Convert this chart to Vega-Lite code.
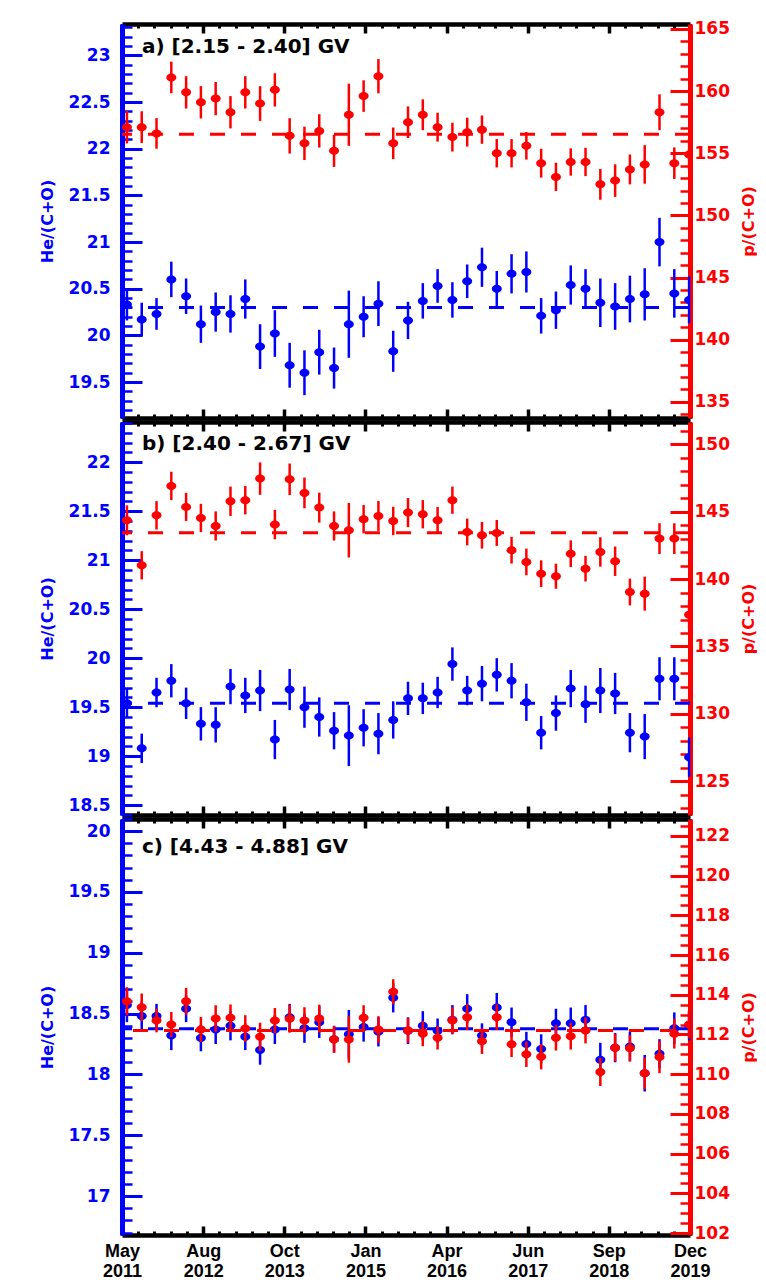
{
  "$schema": "https://vega.github.io/schema/vega-lite/v6.json",
  "background": "white",
  "padding": {"left": 39, "top": 19, "right": 0, "bottom": 2},
  "spacing": 0,
  "config": {
    "view": {"stroke": null},
    "axis": {"grid": false, "labelFont": "DejaVu Sans", "labelFontWeight": "bold", "titleFont": "DejaVu Sans", "titleFontWeight": "bold", "labelOverlap": false, "labelFlush": false}
  },
  "datasets": {
    "means": [
      {"panel": "a", "label": "a) [2.15 - 2.40] GV", "he_mean": 20.30, "p_mean": 156.52},
      {"panel": "b", "label": "b) [2.40 - 2.67] GV", "he_mean": 19.54, "p_mean": 143.44},
      {"panel": "c", "label": "c) [4.43 - 4.88] GV", "he_mean": 18.375, "p_mean": 112.2}
    ],
    "pa": [
      {"date": "2011-06-12", "he": 20.33, "he_err": 0.17, "p": 157.1, "p_err": 1.31},
      {"date": "2011-09-01", "he": 20.17, "he_err": 0.18, "p": 157.1, "p_err": 1.28},
      {"date": "2011-11-21", "he": 20.23, "he_err": 0.17, "p": 156.6, "p_err": 1.23},
      {"date": "2012-02-10", "he": 20.60, "he_err": 0.19, "p": 161.1, "p_err": 1.27},
      {"date": "2012-05-01", "he": 20.42, "he_err": 0.19, "p": 159.9, "p_err": 1.30},
      {"date": "2012-07-21", "he": 20.12, "he_err": 0.20, "p": 159.1, "p_err": 1.30},
      {"date": "2012-10-10", "he": 20.25, "he_err": 0.21, "p": 159.4, "p_err": 1.34},
      {"date": "2012-12-30", "he": 20.23, "he_err": 0.20, "p": 158.3, "p_err": 1.30},
      {"date": "2013-03-21", "he": 20.39, "he_err": 0.21, "p": 159.9, "p_err": 1.30},
      {"date": "2013-06-10", "he": 19.88, "he_err": 0.24, "p": 159.0, "p_err": 1.40},
      {"date": "2013-08-30", "he": 20.02, "he_err": 0.25, "p": 160.1, "p_err": 1.34},
      {"date": "2013-11-19", "he": 19.68, "he_err": 0.24, "p": 156.4, "p_err": 1.42},
      {"date": "2014-02-08", "he": 19.60, "he_err": 0.24, "p": 155.8, "p_err": 1.34},
      {"date": "2014-04-30", "he": 19.82, "he_err": 0.24, "p": 156.8, "p_err": 1.34},
      {"date": "2014-07-20", "he": 19.65, "he_err": 0.22, "p": 155.2, "p_err": 1.30},
      {"date": "2014-10-09", "he": 20.12, "he_err": 0.36, "p": 158.1, "p_err": 2.50},
      {"date": "2014-12-29", "he": 20.20, "he_err": 0.22, "p": 159.6, "p_err": 1.27},
      {"date": "2015-03-20", "he": 20.34, "he_err": 0.24, "p": 161.2, "p_err": 1.38},
      {"date": "2015-06-09", "he": 19.83, "he_err": 0.22, "p": 155.8, "p_err": 1.27},
      {"date": "2015-08-29", "he": 20.16, "he_err": 0.20, "p": 157.5, "p_err": 1.27},
      {"date": "2015-11-18", "he": 20.37, "he_err": 0.19, "p": 158.1, "p_err": 1.24},
      {"date": "2016-02-07", "he": 20.53, "he_err": 0.18, "p": 157.1, "p_err": 1.16},
      {"date": "2016-04-28", "he": 20.38, "he_err": 0.19, "p": 156.3, "p_err": 1.16},
      {"date": "2016-07-18", "he": 20.58, "he_err": 0.18, "p": 156.7, "p_err": 1.16},
      {"date": "2016-10-07", "he": 20.73, "he_err": 0.21, "p": 156.9, "p_err": 1.14},
      {"date": "2016-12-27", "he": 20.50, "he_err": 0.19, "p": 155.0, "p_err": 1.14},
      {"date": "2017-03-18", "he": 20.66, "he_err": 0.21, "p": 155.0, "p_err": 1.14},
      {"date": "2017-06-07", "he": 20.68, "he_err": 0.22, "p": 155.6, "p_err": 1.11},
      {"date": "2017-08-27", "he": 20.21, "he_err": 0.19, "p": 154.2, "p_err": 1.16},
      {"date": "2017-11-16", "he": 20.27, "he_err": 0.20, "p": 153.1, "p_err": 1.14},
      {"date": "2018-02-05", "he": 20.54, "he_err": 0.21, "p": 154.3, "p_err": 1.10},
      {"date": "2018-04-27", "he": 20.50, "he_err": 0.21, "p": 154.3, "p_err": 1.14},
      {"date": "2018-07-17", "he": 20.35, "he_err": 0.26, "p": 152.5, "p_err": 1.24},
      {"date": "2018-10-06", "he": 20.31, "he_err": 0.25, "p": 152.8, "p_err": 1.31},
      {"date": "2018-12-26", "he": 20.39, "he_err": 0.25, "p": 153.7, "p_err": 1.20},
      {"date": "2019-03-17", "he": 20.44, "he_err": 0.28, "p": 154.1, "p_err": 1.55},
      {"date": "2019-06-06", "he": 21.00, "he_err": 0.26, "p": 158.3, "p_err": 1.44},
      {"date": "2019-08-26", "he": 20.45, "he_err": 0.26, "p": 154.2, "p_err": 1.27},
      {"date": "2019-11-15", "he": 20.38, "he_err": 0.25, "p": 154.9, "p_err": 1.30}
    ],
    "pb": [
      {"date": "2011-06-12", "he": 19.54, "he_err": 0.15, "p": 144.36, "p_err": 1.11},
      {"date": "2011-09-01", "he": 19.08, "he_err": 0.15, "p": 141.02, "p_err": 1.05},
      {"date": "2011-11-21", "he": 19.65, "he_err": 0.15, "p": 144.73, "p_err": 1.05},
      {"date": "2012-02-10", "he": 19.77, "he_err": 0.17, "p": 146.91, "p_err": 1.05},
      {"date": "2012-05-01", "he": 19.54, "he_err": 0.16, "p": 145.35, "p_err": 1.04},
      {"date": "2012-07-21", "he": 19.33, "he_err": 0.17, "p": 144.53, "p_err": 1.05},
      {"date": "2012-10-10", "he": 19.32, "he_err": 0.18, "p": 143.94, "p_err": 1.08},
      {"date": "2012-12-30", "he": 19.71, "he_err": 0.18, "p": 145.77, "p_err": 1.09},
      {"date": "2013-03-21", "he": 19.62, "he_err": 0.18, "p": 145.85, "p_err": 1.05},
      {"date": "2013-06-10", "he": 19.67, "he_err": 0.21, "p": 147.45, "p_err": 1.20},
      {"date": "2013-08-30", "he": 19.17, "he_err": 0.20, "p": 144.04, "p_err": 1.09},
      {"date": "2013-11-19", "he": 19.68, "he_err": 0.21, "p": 147.40, "p_err": 1.17},
      {"date": "2014-02-08", "he": 19.50, "he_err": 0.21, "p": 146.39, "p_err": 1.14},
      {"date": "2014-04-30", "he": 19.40, "he_err": 0.20, "p": 145.30, "p_err": 1.11},
      {"date": "2014-07-20", "he": 19.26, "he_err": 0.19, "p": 143.94, "p_err": 1.08},
      {"date": "2014-10-09", "he": 19.21, "he_err": 0.31, "p": 143.62, "p_err": 2.02},
      {"date": "2014-12-29", "he": 19.29, "he_err": 0.19, "p": 144.44, "p_err": 1.05},
      {"date": "2015-03-20", "he": 19.23, "he_err": 0.21, "p": 144.68, "p_err": 1.11},
      {"date": "2015-06-09", "he": 19.37, "he_err": 0.19, "p": 144.31, "p_err": 1.05},
      {"date": "2015-08-29", "he": 19.59, "he_err": 0.17, "p": 144.93, "p_err": 1.08},
      {"date": "2015-11-18", "he": 19.59, "he_err": 0.16, "p": 144.81, "p_err": 1.05},
      {"date": "2016-02-07", "he": 19.65, "he_err": 0.16, "p": 144.36, "p_err": 0.99},
      {"date": "2016-04-28", "he": 19.94, "he_err": 0.17, "p": 145.85, "p_err": 1.01},
      {"date": "2016-07-18", "he": 19.67, "he_err": 0.15, "p": 143.49, "p_err": 0.99},
      {"date": "2016-10-07", "he": 19.74, "he_err": 0.18, "p": 143.25, "p_err": 0.99},
      {"date": "2016-12-27", "he": 19.83, "he_err": 0.17, "p": 143.42, "p_err": 0.96},
      {"date": "2017-03-18", "he": 19.77, "he_err": 0.18, "p": 142.14, "p_err": 0.99},
      {"date": "2017-06-07", "he": 19.55, "he_err": 0.19, "p": 141.27, "p_err": 0.99},
      {"date": "2017-08-27", "he": 19.24, "he_err": 0.17, "p": 140.40, "p_err": 0.99},
      {"date": "2017-11-16", "he": 19.44, "he_err": 0.18, "p": 140.21, "p_err": 0.93},
      {"date": "2018-02-05", "he": 19.69, "he_err": 0.19, "p": 141.88, "p_err": 0.99},
      {"date": "2018-04-27", "he": 19.53, "he_err": 0.19, "p": 140.77, "p_err": 0.95},
      {"date": "2018-07-17", "he": 19.67, "he_err": 0.23, "p": 142.01, "p_err": 1.09},
      {"date": "2018-10-06", "he": 19.64, "he_err": 0.21, "p": 141.32, "p_err": 1.09},
      {"date": "2018-12-26", "he": 19.24, "he_err": 0.20, "p": 139.04, "p_err": 0.99},
      {"date": "2019-03-17", "he": 19.20, "he_err": 0.23, "p": 138.92, "p_err": 1.26},
      {"date": "2019-06-06", "he": 19.79, "he_err": 0.22, "p": 143.00, "p_err": 1.14},
      {"date": "2019-08-26", "he": 19.79, "he_err": 0.22, "p": 143.00, "p_err": 1.14},
      {"date": "2019-11-15", "he": 18.99, "he_err": 0.20, "p": 137.36, "p_err": 1.10}
    ],
    "pc": [
      {"date": "2011-06-12", "he": 18.57, "he_err": 0.14, "p": 113.67, "p_err": 0.71},
      {"date": "2011-09-01", "he": 18.48, "he_err": 0.12, "p": 113.37, "p_err": 0.69},
      {"date": "2011-11-21", "he": 18.48, "he_err": 0.10, "p": 112.70, "p_err": 0.59},
      {"date": "2012-02-10", "he": 18.32, "he_err": 0.12, "p": 112.50, "p_err": 0.63},
      {"date": "2012-05-01", "he": 18.54, "he_err": 0.11, "p": 113.67, "p_err": 0.67},
      {"date": "2012-07-21", "he": 18.30, "he_err": 0.11, "p": 112.25, "p_err": 0.63},
      {"date": "2012-10-10", "he": 18.37, "he_err": 0.12, "p": 112.80, "p_err": 0.67},
      {"date": "2012-12-30", "he": 18.40, "he_err": 0.12, "p": 112.84, "p_err": 0.67},
      {"date": "2013-03-21", "he": 18.31, "he_err": 0.11, "p": 112.30, "p_err": 0.67},
      {"date": "2013-06-10", "he": 18.20, "he_err": 0.12, "p": 111.88, "p_err": 0.71},
      {"date": "2013-08-30", "he": 18.37, "he_err": 0.12, "p": 112.70, "p_err": 0.63},
      {"date": "2013-11-19", "he": 18.47, "he_err": 0.11, "p": 112.79, "p_err": 0.70},
      {"date": "2014-02-08", "he": 18.38, "he_err": 0.12, "p": 112.70, "p_err": 0.67},
      {"date": "2014-04-30", "he": 18.43, "he_err": 0.13, "p": 112.80, "p_err": 0.70},
      {"date": "2014-07-20", "he": 18.29, "he_err": 0.11, "p": 111.75, "p_err": 0.67},
      {"date": "2014-10-09", "he": 18.33, "he_err": 0.20, "p": 111.75, "p_err": 1.17},
      {"date": "2014-12-29", "he": 18.39, "he_err": 0.12, "p": 112.84, "p_err": 0.63},
      {"date": "2015-03-20", "he": 18.35, "he_err": 0.12, "p": 112.25, "p_err": 0.67},
      {"date": "2015-06-09", "he": 18.63, "he_err": 0.12, "p": 114.15, "p_err": 0.63},
      {"date": "2015-08-29", "he": 18.36, "he_err": 0.11, "p": 112.20, "p_err": 0.63},
      {"date": "2015-11-18", "he": 18.40, "he_err": 0.12, "p": 112.04, "p_err": 0.63},
      {"date": "2016-02-07", "he": 18.36, "he_err": 0.10, "p": 111.83, "p_err": 0.59},
      {"date": "2016-04-28", "he": 18.45, "he_err": 0.12, "p": 112.70, "p_err": 0.67},
      {"date": "2016-07-18", "he": 18.54, "he_err": 0.12, "p": 112.87, "p_err": 0.65},
      {"date": "2016-10-07", "he": 18.32, "he_err": 0.10, "p": 111.66, "p_err": 0.64},
      {"date": "2016-12-27", "he": 18.55, "he_err": 0.12, "p": 112.87, "p_err": 0.65},
      {"date": "2017-03-18", "he": 18.43, "he_err": 0.12, "p": 111.50, "p_err": 0.64},
      {"date": "2017-06-07", "he": 18.25, "he_err": 0.10, "p": 111.00, "p_err": 0.64},
      {"date": "2017-08-27", "he": 18.21, "he_err": 0.12, "p": 110.88, "p_err": 0.64},
      {"date": "2017-11-16", "he": 18.42, "he_err": 0.12, "p": 111.83, "p_err": 0.64},
      {"date": "2018-02-05", "he": 18.42, "he_err": 0.13, "p": 111.91, "p_err": 0.67},
      {"date": "2018-04-27", "he": 18.45, "he_err": 0.12, "p": 112.20, "p_err": 0.65},
      {"date": "2018-07-17", "he": 18.12, "he_err": 0.14, "p": 110.11, "p_err": 0.71},
      {"date": "2018-10-06", "he": 18.22, "he_err": 0.12, "p": 111.33, "p_err": 0.69},
      {"date": "2018-12-26", "he": 18.23, "he_err": 0.12, "p": 111.30, "p_err": 0.67},
      {"date": "2019-03-17", "he": 18.01, "he_err": 0.15, "p": 110.04, "p_err": 0.80},
      {"date": "2019-06-06", "he": 18.17, "he_err": 0.12, "p": 110.86, "p_err": 0.81},
      {"date": "2019-08-26", "he": 18.38, "he_err": 0.13, "p": 112.04, "p_err": 0.75},
      {"date": "2019-11-15", "he": 18.40, "he_err": 0.12, "p": 112.50, "p_err": 0.70}
    ]
  },
  "vconcat": [
    {
      "width": 568, "height": 394,
      "data": {"name": "pa"},
      "layer": [
        {
          "layer": [
            {"data": {"name": "means"}, "transform": [{"filter": "datum.panel == 'a'"}],
             "mark": {"type": "rule", "color": "blue", "strokeWidth": 3, "strokeDash": [15, 16]},
             "encoding": {"y": {"field": "he_mean", "type": "quantitative", "scale": {"domain": [19.115, 23.337], "nice": false, "zero": false}, "axis": null}}},
            {"mark": {"type": "errorbar", "color": "blue", "thickness": 2.5},
             "encoding": {
               "x": {"field": "date", "type": "temporal", "scale": {"type": "utc", "domain": [1305504000000, 1574208000000], "nice": false},
                     "axis": {"orient": "bottom", "values": [1305504000000,1313181257143,1320858514286,1328535771429,1336213028571,1343890285714,1351567542857,1359244800000,1366922057143,1374599314286,1382276571429,1389953828571,1397631085714,1405308342857,1412985600000,1420662857143,1428340114286,1436017371429,1443694628571,1451371885714,1459049142857,1466726400000,1474403657143,1482080914286,1489758171429,1497435428571,1505112685714,1512789942857,1520467200000,1528144457143,1535821714286,1543498971429,1551176228571,1558853485714,1566530742857,1574208000000], "tickSize": -4, "tickWidth": 3, "tickColor": "black", "domain": false, "labels": false, "title": null}},
               "y": {"field": "he", "type": "quantitative", "scale": {"domain": [19.115, 23.337], "nice": false, "zero": false},
                     "axis": {"orient": "left", "tickCount": 42, "tickSize": -10, "tickWidth": 2.5, "tickColor": "blue", "domain": false, "labels": false, "title": null}},
               "yError": {"field": "he_err"}}},
            {"mark": {"type": "point", "filled": true, "color": "blue", "opacity": 1, "size": 100, "clip": true, "shape": "M -1 0 A 1 0.8 0 1 0 1 0 A 1 0.8 0 1 0 -1 0 Z"},
             "encoding": {
               "x": {"field": "date", "type": "temporal", "scale": {"type": "utc", "domain": [1305504000000, 1574208000000], "nice": false},
                     "axis": {"orient": "bottom", "values": [1305504000000, 1343890285714, 1382276571429, 1420662857143, 1459049142857, 1497435428571, 1535821714286, 1574208000000], "tickSize": -9, "tickWidth": 3.5, "tickColor": "black", "domainColor": "black", "domainWidth": 4.5, "labels": false, "title": null}},
               "y": {"field": "he", "type": "quantitative", "scale": {"domain": [19.115, 23.337], "nice": false, "zero": false},
                     "axis": {"orient": "left", "values": [19.5, 20, 20.5, 21, 21.5, 22, 22.5, 23], "format": "~g", "tickSize": -20, "tickWidth": 3, "tickColor": "blue", "domainColor": "blue", "domainWidth": 5, "labelColor": "blue", "labelFontSize": 17, "labelPadding": 32, "title": "He/(C+O)", "titleColor": "blue", "titleFontSize": 16, "titlePadding": 13}}}},
            {"data": {"name": "means"}, "transform": [{"filter": "datum.panel == 'a'"}],
             "mark": {"type": "text", "align": "left", "baseline": "alphabetic", "font": "DejaVu Sans", "fontSize": 20, "fontWeight": "bold", "color": "black"},
             "encoding": {
               "x": {"datum": {"year": 2011, "month": 9, "date": 2, "utc": true}, "type": "temporal", "scale": {"type": "utc", "domain": [1305504000000, 1574208000000], "nice": false}, "axis": null},
               "y": {"datum": 23.027, "type": "quantitative", "scale": {"domain": [19.115, 23.337], "nice": false, "zero": false}, "axis": null},
               "text": {"field": "label"}}}
          ],
          "resolve": {"axis": {"x": "independent", "y": "independent"}}
        },
        {
          "layer": [
            {"data": {"name": "means"}, "transform": [{"filter": "datum.panel == 'a'"}],
             "mark": {"type": "rule", "color": "red", "strokeWidth": 3, "strokeDash": [15, 16]},
             "encoding": {"y": {"field": "p_mean", "type": "quantitative", "scale": {"domain": [133.7, 165.4], "nice": false, "zero": false}, "axis": null}}},
            {"mark": {"type": "errorbar", "color": "red", "thickness": 2.5},
             "encoding": {
               "x": {"field": "date", "type": "temporal", "scale": {"type": "utc", "domain": [1305504000000, 1574208000000], "nice": false},
                     "axis": {"orient": "top", "values": [1305504000000,1313181257143,1320858514286,1328535771429,1336213028571,1343890285714,1351567542857,1359244800000,1366922057143,1374599314286,1382276571429,1389953828571,1397631085714,1405308342857,1412985600000,1420662857143,1428340114286,1436017371429,1443694628571,1451371885714,1459049142857,1466726400000,1474403657143,1482080914286,1489758171429,1497435428571,1505112685714,1512789942857,1520467200000,1528144457143,1535821714286,1543498971429,1551176228571,1558853485714,1566530742857,1574208000000], "tickSize": -4, "tickWidth": 3, "tickColor": "black", "domain": false, "labels": false, "title": null}},
               "y": {"field": "p", "type": "quantitative", "scale": {"domain": [133.7, 165.4], "nice": false, "zero": false},
                     "axis": {"orient": "right", "tickCount": 32, "tickSize": -10, "tickWidth": 2.5, "tickColor": "red", "domain": false, "labels": false, "title": null}},
               "yError": {"field": "p_err"}}},
            {"mark": {"type": "point", "filled": true, "color": "red", "opacity": 1, "size": 100, "clip": true, "shape": "M -1 0 A 1 0.8 0 1 0 1 0 A 1 0.8 0 1 0 -1 0 Z"},
             "encoding": {
               "x": {"field": "date", "type": "temporal", "scale": {"type": "utc", "domain": [1305504000000, 1574208000000], "nice": false},
                     "axis": {"orient": "top", "values": [1305504000000, 1343890285714, 1382276571429, 1420662857143, 1459049142857, 1497435428571, 1535821714286, 1574208000000], "tickSize": -9, "tickWidth": 3.5, "tickColor": "black", "domainColor": "black", "domainWidth": 4.5, "labels": false, "title": null}},
               "y": {"field": "p", "type": "quantitative", "scale": {"domain": [133.7, 165.4], "nice": false, "zero": false},
                     "axis": {"orient": "right", "values": [135, 140, 145, 150, 155, 160, 165], "format": "~g", "tickSize": -20, "tickWidth": 3, "tickColor": "red", "domainColor": "red", "domainWidth": 5, "labelColor": "red", "labelFontSize": 17, "labelPadding": 24, "title": "p/(C+O)", "titleColor": "red", "titleFontSize": 16, "titleAngle": 270, "titleBaseline": "top", "titleAlign": "center", "titlePadding": 11}}}}
          ],
          "resolve": {"axis": {"x": "independent", "y": "independent"}}
        }
      ],
      "resolve": {"scale": {"y": "independent"}, "axis": {"x": "independent", "y": "independent"}}
    },
    {
      "width": 568, "height": 393,
      "data": {"name": "pb"},
      "layer": [
        {
          "layer": [
            {"data": {"name": "means"}, "transform": [{"filter": "datum.panel == 'b'"}],
             "mark": {"type": "rule", "color": "blue", "strokeWidth": 3, "strokeDash": [15, 16]},
             "encoding": {"y": {"field": "he_mean", "type": "quantitative", "scale": {"domain": [18.40, 22.41], "nice": false, "zero": false}, "axis": null}}},
            {"mark": {"type": "errorbar", "color": "blue", "thickness": 2.5},
             "encoding": {
               "x": {"field": "date", "type": "temporal", "scale": {"type": "utc", "domain": [1305504000000, 1574208000000], "nice": false},
                     "axis": {"orient": "bottom", "values": [1305504000000,1313181257143,1320858514286,1328535771429,1336213028571,1343890285714,1351567542857,1359244800000,1366922057143,1374599314286,1382276571429,1389953828571,1397631085714,1405308342857,1412985600000,1420662857143,1428340114286,1436017371429,1443694628571,1451371885714,1459049142857,1466726400000,1474403657143,1482080914286,1489758171429,1497435428571,1505112685714,1512789942857,1520467200000,1528144457143,1535821714286,1543498971429,1551176228571,1558853485714,1566530742857,1574208000000], "tickSize": -4, "tickWidth": 3, "tickColor": "black", "domain": false, "labels": false, "title": null}},
               "y": {"field": "he", "type": "quantitative", "scale": {"domain": [18.40, 22.41], "nice": false, "zero": false},
                     "axis": {"orient": "left", "tickCount": 40, "tickSize": -10, "tickWidth": 2.5, "tickColor": "blue", "domain": false, "labels": false, "title": null}},
               "yError": {"field": "he_err"}}},
            {"mark": {"type": "point", "filled": true, "color": "blue", "opacity": 1, "size": 100, "clip": true, "shape": "M -1 0 A 1 0.8 0 1 0 1 0 A 1 0.8 0 1 0 -1 0 Z"},
             "encoding": {
               "x": {"field": "date", "type": "temporal", "scale": {"type": "utc", "domain": [1305504000000, 1574208000000], "nice": false},
                     "axis": {"orient": "bottom", "values": [1305504000000, 1343890285714, 1382276571429, 1420662857143, 1459049142857, 1497435428571, 1535821714286, 1574208000000], "tickSize": -9, "tickWidth": 3.5, "tickColor": "black", "domainColor": "black", "domainWidth": 4.5, "labels": false, "title": null}},
               "y": {"field": "he", "type": "quantitative", "scale": {"domain": [18.40, 22.41], "nice": false, "zero": false},
                     "axis": {"orient": "left", "values": [18.5, 19, 19.5, 20, 20.5, 21, 21.5, 22], "format": "~g", "tickSize": -20, "tickWidth": 3, "tickColor": "blue", "domainColor": "blue", "domainWidth": 5, "labelColor": "blue", "labelFontSize": 17, "labelPadding": 32, "title": "He/(C+O)", "titleColor": "blue", "titleFontSize": 16, "titlePadding": 13}}}},
            {"data": {"name": "means"}, "transform": [{"filter": "datum.panel == 'b'"}],
             "mark": {"type": "text", "align": "left", "baseline": "alphabetic", "font": "DejaVu Sans", "fontSize": 20, "fontWeight": "bold", "color": "black"},
             "encoding": {
               "x": {"datum": {"year": 2011, "month": 9, "date": 2, "utc": true}, "type": "temporal", "scale": {"type": "utc", "domain": [1305504000000, 1574208000000], "nice": false}, "axis": null},
               "y": {"datum": 22.125, "type": "quantitative", "scale": {"domain": [18.40, 22.41], "nice": false, "zero": false}, "axis": null},
               "text": {"field": "label"}}}
          ],
          "resolve": {"axis": {"x": "independent", "y": "independent"}}
        },
        {
          "layer": [
            {"data": {"name": "means"}, "transform": [{"filter": "datum.panel == 'b'"}],
             "mark": {"type": "rule", "color": "red", "strokeWidth": 3, "strokeDash": [15, 16]},
             "encoding": {"y": {"field": "p_mean", "type": "quantitative", "scale": {"domain": [122.5, 151.65], "nice": false, "zero": false}, "axis": null}}},
            {"mark": {"type": "errorbar", "color": "red", "thickness": 2.5},
             "encoding": {
               "x": {"field": "date", "type": "temporal", "scale": {"type": "utc", "domain": [1305504000000, 1574208000000], "nice": false},
                     "axis": {"orient": "top", "values": [1305504000000,1313181257143,1320858514286,1328535771429,1336213028571,1343890285714,1351567542857,1359244800000,1366922057143,1374599314286,1382276571429,1389953828571,1397631085714,1405308342857,1412985600000,1420662857143,1428340114286,1436017371429,1443694628571,1451371885714,1459049142857,1466726400000,1474403657143,1482080914286,1489758171429,1497435428571,1505112685714,1512789942857,1520467200000,1528144457143,1535821714286,1543498971429,1551176228571,1558853485714,1566530742857,1574208000000], "tickSize": -4, "tickWidth": 3, "tickColor": "black", "domain": false, "labels": false, "title": null}},
               "y": {"field": "p", "type": "quantitative", "scale": {"domain": [122.5, 151.65], "nice": false, "zero": false},
                     "axis": {"orient": "right", "tickCount": 29, "tickSize": -10, "tickWidth": 2.5, "tickColor": "red", "domain": false, "labels": false, "title": null}},
               "yError": {"field": "p_err"}}},
            {"mark": {"type": "point", "filled": true, "color": "red", "opacity": 1, "size": 100, "clip": true, "shape": "M -1 0 A 1 0.8 0 1 0 1 0 A 1 0.8 0 1 0 -1 0 Z"},
             "encoding": {
               "x": {"field": "date", "type": "temporal", "scale": {"type": "utc", "domain": [1305504000000, 1574208000000], "nice": false},
                     "axis": {"orient": "top", "values": [1305504000000, 1343890285714, 1382276571429, 1420662857143, 1459049142857, 1497435428571, 1535821714286, 1574208000000], "tickSize": -9, "tickWidth": 3.5, "tickColor": "black", "domainColor": "black", "domainWidth": 4.5, "labels": false, "title": null}},
               "y": {"field": "p", "type": "quantitative", "scale": {"domain": [122.5, 151.65], "nice": false, "zero": false},
                     "axis": {"orient": "right", "values": [125, 130, 135, 140, 145, 150], "format": "~g", "tickSize": -20, "tickWidth": 3, "tickColor": "red", "domainColor": "red", "domainWidth": 5, "labelColor": "red", "labelFontSize": 17, "labelPadding": 24, "title": "p/(C+O)", "titleColor": "red", "titleFontSize": 16, "titleAngle": 270, "titleBaseline": "top", "titleAlign": "center", "titlePadding": 11}}}}
          ],
          "resolve": {"axis": {"x": "independent", "y": "independent"}}
        }
      ],
      "resolve": {"scale": {"y": "independent"}, "axis": {"x": "independent", "y": "independent"}}
    },
    {
      "width": 568, "height": 416,
      "data": {"name": "pc"},
      "layer": [
        {
          "layer": [
            {"data": {"name": "means"}, "transform": [{"filter": "datum.panel == 'c'"}],
             "mark": {"type": "rule", "color": "blue", "strokeWidth": 3, "strokeDash": [15, 16]},
             "encoding": {"y": {"field": "he_mean", "type": "quantitative", "scale": {"domain": [16.68, 20.10], "nice": false, "zero": false}, "axis": null}}},
            {"mark": {"type": "errorbar", "color": "blue", "thickness": 2.5},
             "encoding": {
               "x": {"field": "date", "type": "temporal", "scale": {"type": "utc", "domain": [1305504000000, 1574208000000], "nice": false},
                     "axis": {"orient": "bottom", "values": [1305504000000,1313181257143,1320858514286,1328535771429,1336213028571,1343890285714,1351567542857,1359244800000,1366922057143,1374599314286,1382276571429,1389953828571,1397631085714,1405308342857,1412985600000,1420662857143,1428340114286,1436017371429,1443694628571,1451371885714,1459049142857,1466726400000,1474403657143,1482080914286,1489758171429,1497435428571,1505112685714,1512789942857,1520467200000,1528144457143,1535821714286,1543498971429,1551176228571,1558853485714,1566530742857,1574208000000], "tickSize": -4, "tickWidth": 3, "tickColor": "black", "domain": false, "labels": false, "title": null}},
               "y": {"field": "he", "type": "quantitative", "scale": {"domain": [16.68, 20.10], "nice": false, "zero": false},
                     "axis": {"orient": "left", "tickCount": 34, "tickSize": -10, "tickWidth": 2.5, "tickColor": "blue", "domain": false, "labels": false, "title": null}},
               "yError": {"field": "he_err"}}},
            {"mark": {"type": "point", "filled": true, "color": "blue", "opacity": 1, "size": 100, "clip": true, "shape": "M -1 0 A 1 0.8 0 1 0 1 0 A 1 0.8 0 1 0 -1 0 Z"},
             "encoding": {
               "x": {"field": "date", "type": "temporal", "scale": {"type": "utc", "domain": [1305504000000, 1574208000000], "nice": false},
                     "axis": {"orient": "bottom", "values": [1305504000000, 1343890285714, 1382276571429, 1420662857143, 1459049142857, 1497435428571, 1535821714286, 1574208000000], "tickSize": -9, "tickWidth": 3.5, "tickColor": "black", "domainColor": "black", "domainWidth": 4.5, "labels": true, "labelExpr": "[['May','Aug','Oct','','Jan','Apr','Jun','Sep','Dec'][utcyear(datum.value)-2011], utcFormat(datum.value, '%Y')]", "labelFont": "Liberation Sans", "labelFontSize": 18, "labelFontWeight": "bold", "labelColor": "black", "labelLineHeight": 20, "labelPadding": 16, "labelFlush": false, "labelOverlap": false, "title": null}},
               "y": {"field": "he", "type": "quantitative", "scale": {"domain": [16.68, 20.10], "nice": false, "zero": false},
                     "axis": {"orient": "left", "values": [17, 17.5, 18, 18.5, 19, 19.5, 20], "format": "~g", "tickSize": -20, "tickWidth": 3, "tickColor": "blue", "domainColor": "blue", "domainWidth": 5, "labelColor": "blue", "labelFontSize": 17, "labelPadding": 32, "title": "He/(C+O)", "titleColor": "blue", "titleFontSize": 16, "titlePadding": 13}}}},
            {"data": {"name": "means"}, "transform": [{"filter": "datum.panel == 'c'"}],
             "mark": {"type": "text", "align": "left", "baseline": "alphabetic", "font": "DejaVu Sans", "fontSize": 20, "fontWeight": "bold", "color": "black"},
             "encoding": {
               "x": {"datum": {"year": 2011, "month": 9, "date": 2, "utc": true}, "type": "temporal", "scale": {"type": "utc", "domain": [1305504000000, 1574208000000], "nice": false}, "axis": null},
               "y": {"datum": 19.821, "type": "quantitative", "scale": {"domain": [16.68, 20.10], "nice": false, "zero": false}, "axis": null},
               "text": {"field": "label"}}}
          ],
          "resolve": {"axis": {"x": "independent", "y": "independent"}}
        },
        {
          "layer": [
            {"data": {"name": "means"}, "transform": [{"filter": "datum.panel == 'c'"}],
             "mark": {"type": "rule", "color": "red", "strokeWidth": 3, "strokeDash": [15, 16], "strokeDashOffset": 16},
             "encoding": {"y": {"field": "p_mean", "type": "quantitative", "scale": {"domain": [101.9, 122.85], "nice": false, "zero": false}, "axis": null}}},
            {"mark": {"type": "errorbar", "color": "red", "thickness": 2.5},
             "encoding": {
               "x": {"field": "date", "type": "temporal", "scale": {"type": "utc", "domain": [1305504000000, 1574208000000], "nice": false},
                     "axis": {"orient": "top", "values": [1305504000000,1313181257143,1320858514286,1328535771429,1336213028571,1343890285714,1351567542857,1359244800000,1366922057143,1374599314286,1382276571429,1389953828571,1397631085714,1405308342857,1412985600000,1420662857143,1428340114286,1436017371429,1443694628571,1451371885714,1459049142857,1466726400000,1474403657143,1482080914286,1489758171429,1497435428571,1505112685714,1512789942857,1520467200000,1528144457143,1535821714286,1543498971429,1551176228571,1558853485714,1566530742857,1574208000000], "tickSize": -4, "tickWidth": 3, "tickColor": "black", "domain": false, "labels": false, "title": null}},
               "y": {"field": "p", "type": "quantitative", "scale": {"domain": [101.9, 122.85], "nice": false, "zero": false},
                     "axis": {"orient": "right", "tickCount": 42, "tickSize": -10, "tickWidth": 2.5, "tickColor": "red", "domain": false, "labels": false, "title": null}},
               "yError": {"field": "p_err"}}},
            {"mark": {"type": "point", "filled": true, "color": "red", "opacity": 1, "size": 100, "clip": true, "shape": "M -1 0 A 1 0.8 0 1 0 1 0 A 1 0.8 0 1 0 -1 0 Z"},
             "encoding": {
               "x": {"field": "date", "type": "temporal", "scale": {"type": "utc", "domain": [1305504000000, 1574208000000], "nice": false},
                     "axis": {"orient": "top", "values": [1305504000000, 1343890285714, 1382276571429, 1420662857143, 1459049142857, 1497435428571, 1535821714286, 1574208000000], "tickSize": -9, "tickWidth": 3.5, "tickColor": "black", "domainColor": "black", "domainWidth": 4.5, "labels": false, "title": null}},
               "y": {"field": "p", "type": "quantitative", "scale": {"domain": [101.9, 122.85], "nice": false, "zero": false},
                     "axis": {"orient": "right", "values": [102, 104, 106, 108, 110, 112, 114, 116, 118, 120, 122], "format": "~g", "tickSize": -20, "tickWidth": 3, "tickColor": "red", "domainColor": "red", "domainWidth": 5, "labelColor": "red", "labelFontSize": 17, "labelPadding": 24, "title": "p/(C+O)", "titleColor": "red", "titleFontSize": 16, "titleAngle": 270, "titleBaseline": "top", "titleAlign": "center", "titlePadding": 11}}}}
          ],
          "resolve": {"axis": {"x": "independent", "y": "independent"}}
        }
      ],
      "resolve": {"scale": {"y": "independent"}, "axis": {"x": "independent", "y": "independent"}}
    }
  ]
}
